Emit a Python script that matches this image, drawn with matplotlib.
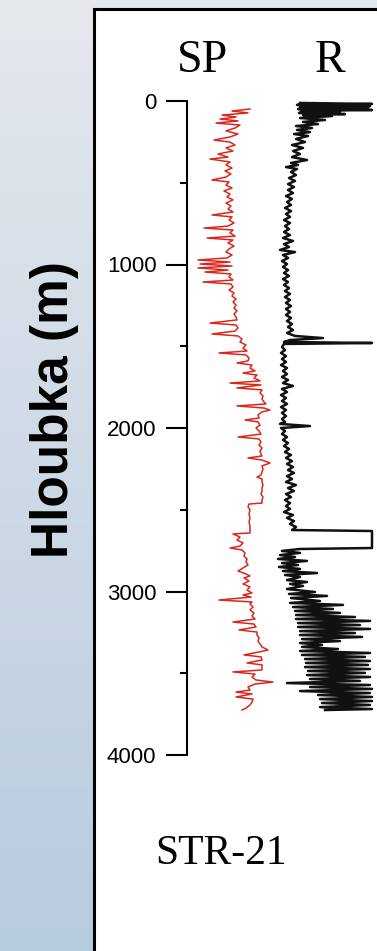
import numpy as np
import matplotlib
matplotlib.use("Agg")
import matplotlib.pyplot as plt
from matplotlib.patches import Rectangle

# ---------------- data ----------------
sp_depth = [49, 61, 73, 86, 98, 110, 122, 135, 147, 165, 183, 202, 220, 239, 251, 269, 287, 306, 324, 343,
            355, 373, 391, 410, 428, 446, 465, 483, 495, 514, 532, 550, 569, 587, 605, 624, 642, 661, 679, 697,
            709, 728, 746, 765, 777, 789, 807, 826, 838, 850, 868, 887, 905, 924, 942, 960, 972, 985, 997, 1009,
            1021, 1034, 1046, 1058, 1076, 1095, 1107, 1119, 1138, 1156, 1174, 1193, 1211, 1229, 1248, 1266, 1284,
            1303, 1321, 1339, 1358, 1370, 1388, 1407, 1425, 1437, 1456, 1474, 1492, 1511, 1529, 1541, 1553, 1572,
            1590, 1602, 1615, 1633, 1651, 1664, 1676, 1694, 1712, 1725, 1737, 1755, 1767, 1786, 1804, 1823, 1841,
            1853, 1865, 1878, 1890, 1902, 1920, 1939, 1951, 1963, 1982, 2000, 2018, 2037, 2055, 2067, 2086, 2104,
            2122, 2141, 2159, 2171, 2183, 2196, 2214, 2232, 2251, 2269, 2287, 2300, 2312, 2330, 2349, 2367, 2385,
            2404, 2422, 2440, 2459, 2465, 2483, 2501, 2526, 2550, 2575, 2599, 2624, 2642, 2648, 2667, 2685, 2703,
            2722, 2734, 2746, 2764, 2783, 2801, 2819, 2838, 2856, 2875, 2893, 2905, 2917, 2936, 2954, 2972, 2991,
            3009, 3021, 3034, 3052, 3064, 3076, 3095, 3113, 3131, 3150, 3168, 3187, 3199, 3217, 3235, 3248, 3266,
            3284, 3303, 3321, 3339, 3358, 3370, 3388, 3400, 3419, 3437, 3449, 3468, 3480, 3492, 3505, 3523, 3541,
            3554, 3566, 3584, 3603, 3615, 3627, 3645, 3658, 3676, 3694, 3713, 3725]
sp_value = [63, 45, 61, 35, 49, 33, 51, 29, 53, 48, 39, 51, 43, 27, 43, 48, 39, 46, 31, 41,
            23, 43, 39, 45, 38, 44, 39, 25, 42, 39, 45, 37, 43, 40, 46, 39, 44, 41, 46, 25,
            45, 42, 47, 41, 17, 46, 43, 48, 20, 46, 41, 47, 42, 39, 45, 40, 11, 43, 13, 45,
            11, 41, 18, 44, 42, 46, 16, 44, 46, 42, 47, 45, 49, 46, 49, 47, 50,
            47, 49, 50, 23, 49, 51, 48, 25, 51, 55, 53, 59, 56, 60, 32, 59, 62,
            61, 50, 65, 63, 68, 56, 70, 67, 73, 43, 74, 50, 75, 73, 76, 75, 77,
            79, 50, 77, 83, 75, 71, 72, 58, 71, 73, 69, 72, 74, 51, 72, 74, 72,
            75, 73, 74, 75, 61, 75, 83, 75, 76, 75, 74, 70, 75, 75, 76, 75, 75,
            74, 76, 75, 75, 62, 61, 63, 62, 63, 62, 63, 63, 63, 46, 53, 50, 56,
            53, 43, 55, 58, 57, 60, 59, 61, 56, 51, 59, 63, 57, 62, 56, 63, 60,
            65, 56, 64, 32, 65, 63, 66, 63, 67, 65, 68, 46, 67, 69, 52, 70, 70,
            72, 71, 73, 75, 81, 72, 57, 74, 75, 60, 75, 75, 75, 46, 68, 65, 69,
            86, 68, 61, 63, 49, 65, 49, 66, 65, 63, 59, 55]

r_depth = [12, 18, 24, 31, 37, 43, 49, 55, 61, 67, 73, 80, 86, 92, 104, 116, 128, 141, 153, 165,
           177, 190, 202, 214, 232, 251, 269, 287, 306, 324, 343, 361, 379, 391, 404, 416, 434, 453, 471, 489,
           508, 526, 544, 563, 581, 599, 618, 636, 654, 673, 691, 709, 728, 746, 765, 783, 801, 820, 838, 856,
           875, 893, 911, 924, 942, 960, 979, 997, 1015, 1034, 1052, 1070, 1089, 1107, 1125, 1144, 1162, 1180,
           1199, 1217, 1235, 1254, 1272, 1290, 1309, 1327, 1346, 1364, 1382, 1401, 1419, 1437, 1450, 1462, 1474,
           1480, 1486, 1505, 1523, 1541, 1560, 1578, 1596, 1615, 1633, 1651, 1670, 1688, 1706, 1725, 1743, 1761,
           1780, 1798, 1816, 1835, 1853, 1872, 1890, 1908, 1927, 1945, 1963, 1975, 1988, 2000, 2018, 2037, 2055,
           2073, 2092, 2110, 2128, 2147, 2165, 2183, 2202, 2220, 2238, 2257, 2275, 2294, 2312, 2330, 2349, 2367,
           2385, 2404, 2422, 2440, 2459, 2477, 2495, 2514, 2532, 2550, 2569, 2587, 2605, 2624, 2630, 2685, 2734,
           2740, 2752, 2764, 2777, 2789, 2801, 2813, 2826, 2838, 2850, 2862, 2875, 2887, 2899, 2911, 2930, 2942,
           2954, 2966, 2985, 3003, 3015, 3027, 3040, 3058, 3070, 3082, 3095, 3107, 3119, 3131, 3144, 3156, 3168,
           3180, 3193, 3205, 3217, 3229, 3242, 3254, 3266, 3278, 3291, 3303, 3315, 3327, 3339, 3352, 3364, 3376,
           3388, 3400, 3413, 3425, 3437, 3449, 3462, 3474, 3486, 3498, 3511, 3523, 3535, 3547, 3560, 3572, 3584,
           3596, 3609, 3621, 3633, 3645, 3658, 3670, 3682, 3694, 3707, 3719, 3725]
r_value = [23, 95, 20, 93, 23, 91, 21, 95, 24, 63, 22, 68, 26, 55, 23, 48, 26, 41, 19, 35,
           20, 33, 17, 31, 19, 28, 15, 26, 16, 23, 15, 30, 14, 21, 9, 20, 14, 19, 12, 18,
           11, 17, 11, 16, 9, 15, 10, 14, 8, 14, 9, 13, 7, 13, 8, 12, 7, 13, 6, 16,
           7, 12, 3, 18, 6, 11, 5, 10, 6, 11, 7, 12, 6, 11, 7, 12, 8, 13,
           8, 13, 9, 14, 9, 13, 9, 14, 10, 15, 11, 16, 10, 18, 46, 13, 7,
           95, 7, 5, 8, 4, 9, 5, 9, 4, 10, 6, 10, 5, 11, 6, 16, 5,
           10, 4, 9, 5, 10, 4, 9, 5, 9, 5, 8, 3, 33, 4, 8, 5, 10,
           6, 11, 7, 12, 8, 14, 9, 15, 10, 16, 11, 17, 10, 15, 9, 19, 11,
           17, 9, 14, 8, 13, 9, 13, 7, 16, 10, 17, 13, 19, 15, 95, 95, 95,
           23, 5, 23, 3, 18, 1, 30, 5, 21, 2, 23, 6, 40, 8, 23, 10, 30,
           13, 26, 10, 38, 12, 50, 14, 43, 13, 66, 16, 56, 18, 63, 19, 78, 19,
           93, 21, 83, 21, 93, 23, 78, 23, 85, 25, 63, 23, 45, 25, 61, 23, 93,
           25, 88, 28, 93, 29, 91, 28, 93, 31, 88, 30, 93, 33, 83, 10, 93, 33,
           95, 23, 93, 41, 95, 43, 95, 45, 93, 43, 95, 48]

depth_ticks = [0, 1000, 2000, 3000, 4000]
depth_minor = [500, 1500, 2500, 3500]
track_titles = ["SP", "R"]
well_name = "STR-21"
y_title = "Hloubka (m)"

# ---------------- layout helpers ----------------
W, H = 377, 951
fig = plt.figure(figsize=(W / 100, H / 100), dpi=100)


def fx(px):
    return px / W


def fy(py):
    return 1 - py / H


# background gradient
bg = fig.add_axes([0, 0, 1, 1], zorder=-10)
top = np.array([229, 232, 237]) / 255
bot = np.array([183, 203, 223]) / 255
t = np.linspace(0, 1, 256)[:, None]
grad = top[None, :] * (1 - t) + bot[None, :] * t
bg.imshow(grad[:, None, :], aspect="auto", extent=[0, 1, 0, 1])
bg.set_axis_off()

# white panel with black border
fig.patches.append(Rectangle((fx(94), fy(H + 20)), 2, fy(9) - fy(H + 20),
                             transform=fig.transFigure, facecolor="white",
                             edgecolor="black", linewidth=2.2, zorder=-5))

y0, y1 = 101, 755
ax_sp = fig.add_axes([fx(187), fy(y1), fx(277) - fx(187), fy(y0) - fy(y1)])
ax_r = fig.add_axes([fx(277), fy(y1), fx(377) - fx(277), fy(y0) - fy(y1)], sharey=ax_sp)

for ax in (ax_sp, ax_r):
    ax.patch.set_alpha(0)
    for s in ax.spines.values():
        s.set_visible(False)

ax_sp.set_ylim(4000, 0)
ax_sp.set_xlim(0, 90)
ax_r.set_xlim(0, 100)

ax_sp.plot(sp_value, sp_depth, color="#d9271e", lw=1.1, clip_on=False)
ax_r.plot(r_value, r_depth, color="#111111", lw=1.8, clip_on=False)

ax_sp.spines["left"].set_visible(True)
ax_sp.spines["left"].set_linewidth(1.5)
ax_sp.set_yticks(depth_ticks)
ax_sp.set_yticks(depth_minor, minor=True)
ax_sp.set_xticks([])
ax_sp.tick_params(axis="y", which="major", length=15, width=1.5, pad=7,
                  labelsize=16, labelfontfamily="Liberation Sans")
ax_sp.tick_params(axis="y", which="minor", length=5, width=1.5)
ax_r.set_axis_off()

# texts
fig.text(fx(202), fy(72), track_titles[0], ha="center", va="baseline",
         fontsize=33, family="Liberation Serif")
fig.text(fx(330), fy(72), track_titles[1], ha="center", va="baseline",
         fontsize=33, family="Liberation Serif")
fig.text(fx(221), fy(864), well_name, ha="center", va="baseline",
         fontsize=30, family="Liberation Serif")
fig.text(fx(55), fy(410), y_title, ha="center", va="center", rotation=90,
         fontsize=37, fontweight="bold", family="Liberation Sans")

fig.savefig("out.png", dpi=100)
